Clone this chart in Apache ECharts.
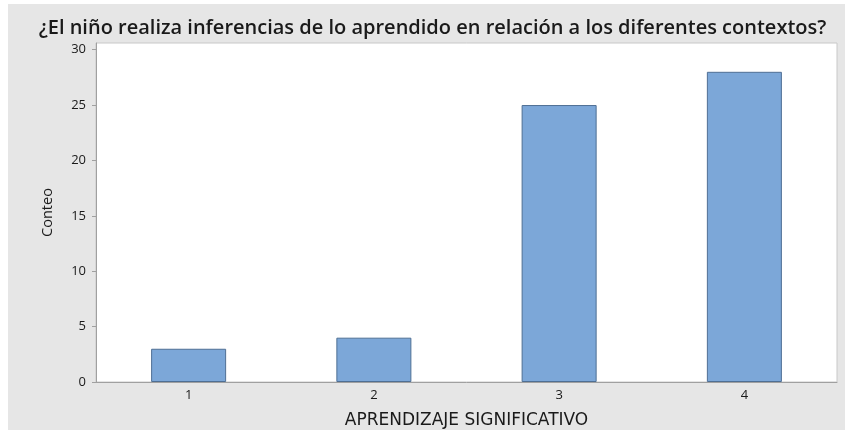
<!DOCTYPE html>
<html><head><meta charset="utf-8">
<script src="https://cdn.jsdelivr.net/npm/echarts@6/dist/echarts.min.js"></script>
<style>html,body{margin:0;padding:0;background:#fff}#c{width:865px;height:435px}</style>
</head><body><div id="c"></div>
<script>
const categories = ['1', '2', '3', '4'];
const counts = [3, 4, 25, 28];
const yTicks = [0, 5, 10, 15, 20, 25, 30];
const titleText = '¿El niño realiza inferencias de lo aprendido en relación a los diferentes contextos?';
const xName = 'APRENDIZAJE SIGNIFICATIVO';
const yName = 'Conteo';

const chart = echarts.init(document.getElementById('c'));
const font = '"Open Sans", "Noto Sans", sans-serif';
chart.setOption({
  animation: false,
  backgroundColor: '#ffffff',
  graphic: [{
    type: 'rect', z: -10, silent: true,
    shape: { x: 8, y: 4, width: 837, height: 426 },
    style: { fill: '#e6e6e6' }
  }],
  title: {
    text: titleText, left: 'center', top: 13,
    textStyle: { fontFamily: font, fontSize: 20, fontWeight: 600, color: '#1a1a1a' }
  },
  grid: {
    left: 96, right: 28, top: 43, bottom: 53,
    show: true, backgroundColor: '#ffffff', borderColor: '#c8c8c8', borderWidth: 1
  },
  xAxis: {
    type: 'category', data: categories,
    name: xName, nameLocation: 'middle', nameGap: 30,
    nameTextStyle: { fontFamily: '"DejaVu Sans", sans-serif', fontSize: 17, color: '#1a1a1a' },
    axisLine: { lineStyle: { color: '#a0a0a0' } },
    axisTick: { alignWithLabel: true, length: 4, lineStyle: { color: '#a0a0a0' } },
    axisLabel: { fontFamily: font, fontSize: 13, color: '#1a1a1a', margin: 7 },
    splitLine: { show: false }
  },
  yAxis: {
    type: 'value', min: 0, max: 30.6,
    name: yName, nameLocation: 'middle', nameGap: 41,
    nameTextStyle: { fontFamily: font, fontSize: 14.5, color: '#1a1a1a' },
    axisLine: { show: true, lineStyle: { color: '#a0a0a0' } },
    axisTick: { show: true, length: 4, customValues: yTicks, lineStyle: { color: '#a0a0a0' } },
    axisLabel: { fontFamily: font, fontSize: 13, color: '#1a1a1a', margin: 10, customValues: yTicks },
    splitLine: { show: false }
  },
  series: [{
    type: 'bar', data: counts, barWidth: '40.5%',
    itemStyle: { color: '#7ca7d8', borderColor: '#4f6f94', borderWidth: 1 }
  }]
});
</script></body></html>
